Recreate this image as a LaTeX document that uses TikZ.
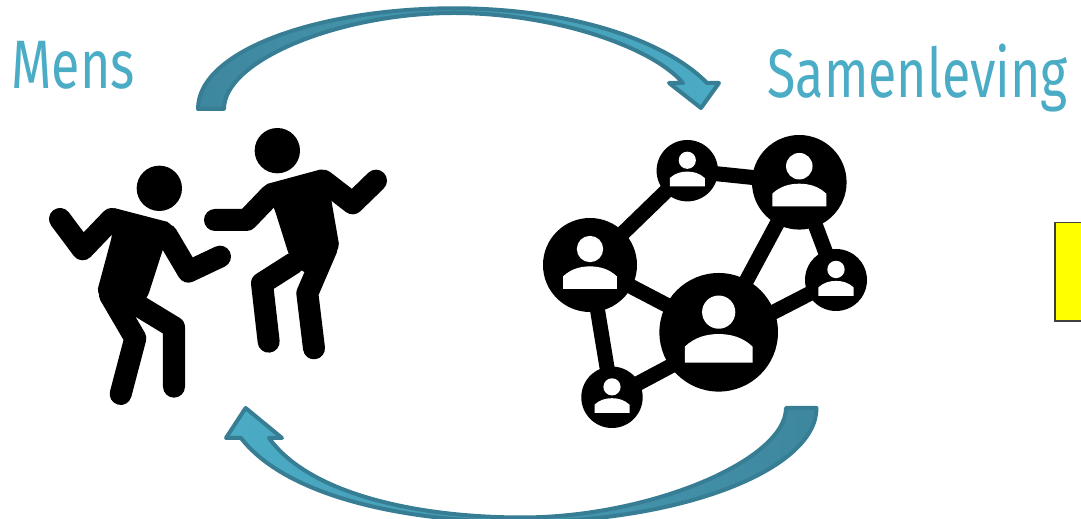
\documentclass[tikz,border=0pt]{standalone}
\usepackage{fontspec}
\setmainfont{Fira Sans}
\usepackage{xcolor}
\definecolor{arrowline}{HTML}{377D93}
\definecolor{arrowdark}{HTML}{3E879E}
\definecolor{arrowlight}{HTML}{4BACC6}
\definecolor{boxline}{HTML}{404040}
\definecolor{boxfill}{HTML}{FFFF00}

\begin{document}
\begin{tikzpicture}[x=0.01cm, y=-0.01cm,
		limb/.style={line width=.22cm, line cap=round, line join=round},
		torso/.style={fill=black, draw=black, line width=.02cm, rounded corners=.05cm},
		hub/.style={circle, fill=black, inner sep=0pt, minimum size=2*#1*0.01cm},
		link/.style={line width=.15cm, shorten <=-2pt, shorten >=-2pt},
		title/.style={text=arrowlight, font=\fontsize{19.5}{20}\selectfont, anchor=base west, inner sep=0pt, xscale=.757, transform shape},
		sweep/.style={draw=arrowline, line width=.04cm, line join=round, left color=arrowdark, middle color=arrowdark, right color=arrowlight},
		usericon/.pic={
			\fill[white] (0,-.34) circle (.28);
			\fill[white] (-.57,.51) -- (-.57,.24) .. controls (-.4,.08) and (-.2,.03) .. (0,.03) .. controls (.2,.03) and (.4,.08) .. (.57,.24) -- (.57,.51) -- cycle;
		}]
		\useasboundingbox (0,0) rectangle (1081,519);
		%
		\node[title] (mens) at (11,88.5) {Mens};
		\node[title] (samenleving) at (767,98) {Samenleving};
		\node[draw=boxline, fill=boxfill, line width=.015cm, inner sep=0pt, minimum width=.5cm, minimum height=.98cm, anchor=north west] (box) at (1054,222) {};
		%
		\draw[sweep] (198,109) .. controls (198,50) and (320,8.3) .. (454,8.3) .. controls (570,8.3) and (665,40) .. (707,83) -- (719,83) -- (701,108) -- (669,83) -- (683,83) .. controls (650,45) and (550,13) .. (454,13) .. controls (340,13) and (224,60) .. (224,109) -- cycle;
		\draw[sweep, left color=arrowlight, middle color=arrowdark, right color=arrowdark] (816.5,408) .. controls (816.5,470) and (680,522) .. (522,522) .. controls (400,522) and (285,495) .. (241,438) -- (226,438) -- (245.6,408) -- (282,438) -- (269,438) .. controls (310,495) and (420,517.5) .. (522,517.5) .. controls (650,517.5) and (786,460) .. (786,408) -- cycle;
		%
		\begin{scope}[shift={(30,120)}, scale=1/3]
			\fill (388,205) circle (68);
			\draw[torso] (250,345) -- (240,264) -- (425,312) -- (395,390) -- (350,530) -- (305,580) -- (203,520) -- cycle;
			\draw[limb] (90,297) -- (158,388) -- (245,297);
			\draw[limb] (410,345) -- (475,455) -- (570,410);
			\draw[limb] (330,560) -- (432,622) -- (432,800);
			\draw[limb] (240,525) -- (316,655) -- (272,822);
		\end{scope}
		%
		\begin{scope}[shift={(30,120)}, scale=1/3]
			\fill (742,92) circle (68);
			\draw[torso] (735,262) -- (700,198) -- (885,148) -- (926,385) -- (825,460) -- (780,405) -- cycle;
			\draw[limb] (555,300) -- (650,300) -- (722,225);
			\draw[limb] (880,182) -- (968,250) -- (1038,182);
			\draw[limb] (790,430) -- (696,490) -- (716,665);
			\draw[limb] (890,385) -- (832,520) -- (852,685);
		\end{scope}
		%
		\foreach \name/\xx/\yy/\rr in {top/687.3/170.7/30.7, peak/799.3/182.3/47.3, west/590/265/47, core/718.7/332.3/59.3, east/836/280/31, foot/612/397.3/30.7}
			\node[hub=\rr] (\name) at (\xx,\yy) {};
		\coordinate (corelow) at (718.7,340.5);
		\foreach \from/\to in {west/top, top/peak, peak/core, peak/east, west/core, west/foot}
			\draw[link] (\from) -- (\to);
		\draw[link] (foot) -- (corelow);
		\draw[link] (east) -- (corelow);
		\foreach \name/\rr in {top/30.7, peak/47.3, west/47, core/59.3, east/31, foot/30.7}
			\pic[scale=\rr] at (\name) {usericon};
	\end{tikzpicture}
\end{document}
